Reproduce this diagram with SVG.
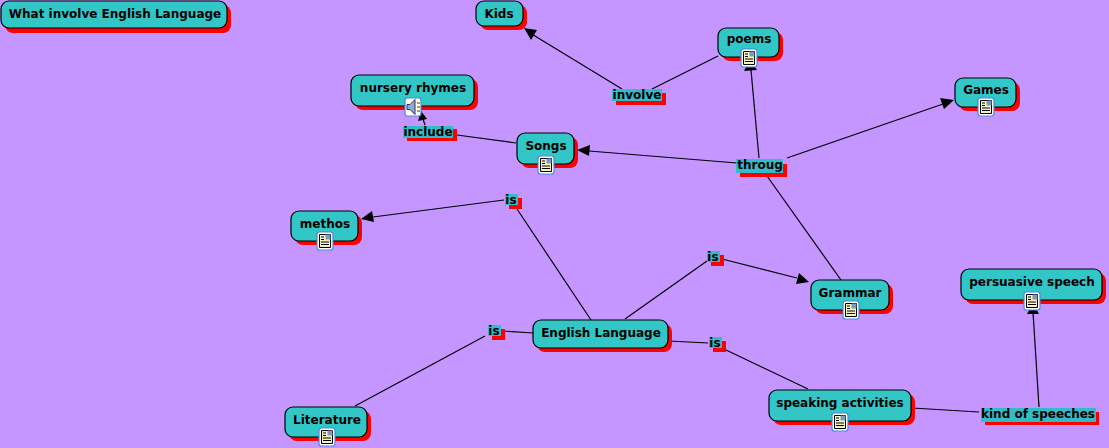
<svg xmlns="http://www.w3.org/2000/svg" width="1109" height="448" viewBox="0 0 1109 448">
<style>
.s{fill:#ff0000}
.b{fill:#33c6c6;stroke:#000;stroke-width:1.2}
.l{fill:#33bcc8}
text{font-family:"DejaVu Sans",Verdana,sans-serif;font-weight:700;font-size:12px;fill:#000;text-anchor:middle}
.c line{stroke:#000;stroke-width:1.2}
.c polygon{fill:#000}
</style>
<defs>
<g id="doc">
<rect x="-8" y="-9" width="16" height="18" rx="2.500" fill="#fff" stroke="#4a86e0" stroke-width="1.200"/>
<path d="M-5.500-6.500h11v13h-11z" fill="#f8f4c0" stroke="#000" stroke-width="1"/>
<rect x="0.500" y="-6.500" width="5" height="5" fill="#7a9ac0"/>
<path d="M-4-4h3M-4-1.500h3M-4 1h8M-4 3.500h8" stroke="#000" stroke-width="1"/>
</g>
<g id="snd">
<rect x="-8" y="-9" width="16" height="18" rx="2.500" fill="#fff" stroke="#4a86e0" stroke-width="1.200"/>
<path d="M-6-2.500h3l5-5v15l-5-5h-3z" fill="#8fa8dc" stroke="#334" stroke-width="1"/>
<path d="M4-4h3M4 0h3M4 4h3" stroke="#c8a020" stroke-width="2"/>
</g>
</defs>
<rect width="1109" height="448" fill="#c596ff"/>
<g class="c">
<line x1="622" y1="89" x2="530" y2="33"/><polygon points="524,28 537,30 531,40"/>
<line x1="652" y1="89" x2="718" y2="56"/>
<line x1="759" y1="158" x2="751" y2="70"/><polygon points="750,60 757,70 744,71"/>
<line x1="787" y1="158" x2="943" y2="104"/><polygon points="954,100 944,109 940,98"/>
<line x1="737" y1="163" x2="589" y2="151"/><polygon points="577,150 590,145 589,156"/>
<line x1="767" y1="176" x2="841" y2="280"/>
<line x1="425" y1="125" x2="423" y2="119"/><polygon points="421,111 427,119 418,121"/>
<line x1="457" y1="135" x2="516" y2="143"/>
<line x1="504" y1="200" x2="373" y2="217"/><polygon points="361,219 372,211 374,222"/>
<line x1="517" y1="209" x2="591" y2="320"/>
<line x1="625" y1="319" x2="707" y2="261"/>
<line x1="722" y1="259" x2="797" y2="278"/><polygon points="809,282 796,284 799,273"/>
<line x1="502" y1="331" x2="533" y2="333"/>
<line x1="485" y1="336" x2="355" y2="406"/>
<line x1="669" y1="341" x2="708" y2="343"/>
<line x1="724" y1="349" x2="808" y2="389"/>
<line x1="912" y1="408" x2="979" y2="412"/>
<line x1="1039" y1="407" x2="1033" y2="312"/><polygon points="1033,303 1039,314 1027,314"/>
</g>
<g id="n-what"><rect class="s" x="5" y="5" width="226" height="28" rx="8"/><rect class="b" x="1" y="1" width="226" height="27" rx="8"/><text x="115" y="18">What involve English Language</text></g>
<g id="n-kids"><rect class="s" x="480" y="5" width="47" height="25" rx="8"/><rect class="b" x="476" y="1" width="47" height="25" rx="8"/><text x="499" y="18">Kids</text></g>
<g id="n-poems"><rect class="s" x="722" y="32" width="61" height="29" rx="8"/><rect class="b" x="718" y="28" width="61" height="29" rx="8"/><text x="749" y="43">poems</text><use href="#doc" x="749" y="58"/></g>
<g id="n-games"><rect class="s" x="959" y="82" width="61" height="29" rx="8"/><rect class="b" x="955" y="78" width="61" height="29" rx="8"/><text x="986" y="94">Games</text><use href="#doc" x="986" y="107"/></g>
<g id="n-nursery"><rect class="s" x="355" y="79" width="123" height="31" rx="8"/><rect class="b" x="351" y="75" width="123" height="31" rx="8"/><text x="413" y="92">nursery rhymes</text><use href="#snd" x="413" y="107"/></g>
<g id="n-songs"><rect class="s" x="521" y="137" width="57" height="31" rx="8"/><rect class="b" x="517" y="133" width="57" height="31" rx="8"/><text x="546" y="150">Songs</text><use href="#doc" x="546" y="165"/></g>
<g id="n-methos"><rect class="s" x="295" y="215" width="67" height="30" rx="8"/><rect class="b" x="291" y="211" width="67" height="30" rx="8"/><text x="325" y="228">methos</text><use href="#doc" x="325" y="241"/></g>
<g id="n-grammar"><rect class="s" x="815" y="284" width="78" height="30" rx="8"/><rect class="b" x="811" y="280" width="78" height="30" rx="8"/><text x="850" y="297">Grammar</text><use href="#doc" x="851" y="310"/></g>
<g id="n-persuasive"><rect class="s" x="965" y="273" width="141" height="31" rx="8"/><rect class="b" x="961" y="269" width="141" height="31" rx="8"/><text x="1032" y="286">persuasive speech</text><use href="#doc" x="1032" y="301"/></g>
<g id="n-english"><rect class="s" x="537" y="324" width="135" height="28" rx="8"/><rect class="b" x="533" y="320" width="135" height="28" rx="8"/><text x="601" y="337">English Language</text></g>
<g id="n-speaking"><rect class="s" x="773" y="394" width="142" height="31" rx="8"/><rect class="b" x="769" y="390" width="142" height="31" rx="8"/><text x="840" y="407">speaking activities</text><use href="#doc" x="840" y="422"/></g>
<g id="n-literature"><rect class="s" x="289" y="411" width="82" height="30" rx="8"/><rect class="b" x="285" y="407" width="82" height="30" rx="8"/><text x="327" y="424">Literature</text><use href="#doc" x="327" y="437"/></g>
<g id="l-involve"><rect class="s" x="616" y="93" width="50" height="12"/><rect class="l" x="612" y="89" width="50" height="12"/><text x="637" y="99">involve</text></g>
<g id="l-include"><rect class="s" x="407" y="129" width="50" height="12"/><rect class="l" x="403" y="126" width="50" height="12"/><text x="428" y="136">include</text></g>
<g id="l-throug"><rect class="s" x="740" y="164" width="47" height="13"/><rect class="l" x="736" y="159" width="47" height="14"/><text x="760" y="169">throug</text></g>
<g id="l-is1"><rect class="s" x="509" y="198" width="13" height="11"/><rect class="l" x="505" y="194" width="13" height="11"/><text x="511" y="204">is</text></g>
<g id="l-is2"><rect class="s" x="711" y="255" width="13" height="11"/><rect class="l" x="707" y="251" width="13" height="11"/><text x="713" y="261">is</text></g>
<g id="l-is3"><rect class="s" x="492" y="329" width="13" height="11"/><rect class="l" x="488" y="325" width="13" height="11"/><text x="494" y="335">is</text></g>
<g id="l-is4"><rect class="s" x="713" y="341" width="13" height="11"/><rect class="l" x="709" y="337" width="13" height="11"/><text x="715" y="347">is</text></g>
<g id="l-kind"><rect class="s" x="985" y="412" width="114" height="13"/><rect class="l" x="981" y="408" width="115" height="14"/><text x="1038" y="418">kind of speeches</text></g>
</svg>
